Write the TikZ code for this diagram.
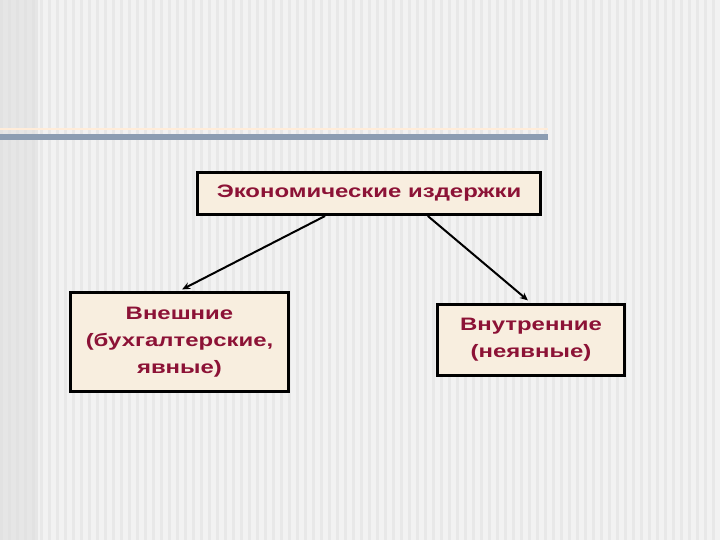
\documentclass[tikz,border=0pt]{standalone}
\usepackage{fontspec}
\setmainfont{Liberation Sans}[FakeStretch=1.33]
\usetikzlibrary{calc,arrows.meta}
\definecolor{slidebg}{HTML}{F2F2F2}
\definecolor{stripe}{HTML}{E8E8E8}
\definecolor{barblue}{HTML}{8C9DB2}
\definecolor{boxfill}{HTML}{F8EEDF}
\definecolor{boxtext}{HTML}{8C1236}
\tikzset{
	costbox/.style={draw=black, line width=3pt, fill=boxfill, text=boxtext,
		font=\fontsize{18pt}{27pt}\selectfont\bfseries, align=center, inner sep=0pt},
	costarrow/.style={line width=2pt, -{Stealth[length=8pt,width=7pt]}}
}
\begin{document}
\begin{tikzpicture}[x=1pt,y=-1pt]
	\useasboundingbox (0,0) rectangle (720,540);
	
	% slide background
	\fill[slidebg] (0,0) rectangle (720,540);
	\foreach \sx in {0,8,...,720}
		\fill[stripe] (\sx,0) rectangle (\sx+3,540);
	\fill[gray!25, opacity=0.6] (0,0) rectangle (38,540);
	\fill[orange!15] (0,128.5) rectangle (548,130);
	\fill[barblue] (0,134.5) rectangle (548,140.5);
	
	% boxes
	\node[costbox, minimum width=343pt, minimum height=42pt] (econ) at (369,193.5) {Экономические издержки};
	\node[costbox, minimum width=218pt, minimum height=99pt, line width=3.5pt] (ext) at (179.5,342) {Внешние\\(бухгалтерские,\\явные)};
	\node[costbox, minimum width=187pt, minimum height=71pt] (int) at (531,340) {Внутренние\\(неявные)};
	
	% arrows
	\draw[costarrow, shorten >=3pt] ($(econ.south west)!0.373!(econ.south east)$) -- (ext.north);
	\draw[costarrow, shorten >=4pt] ($(econ.south west)!0.67!(econ.south east)$) -- (int.north);
	
\end{tikzpicture}
\end{document}
